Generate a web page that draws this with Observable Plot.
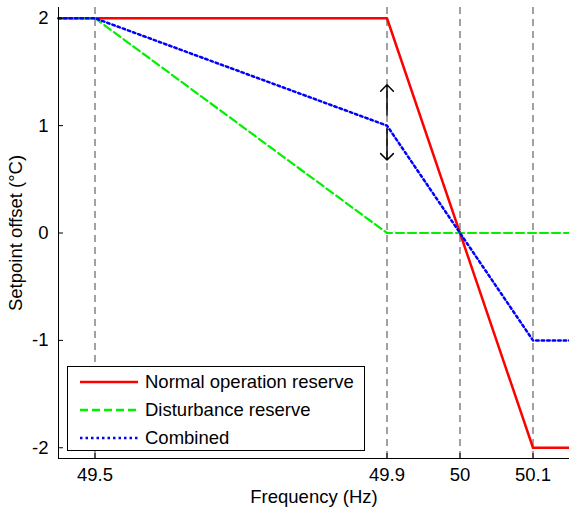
<!DOCTYPE html>
<html>
<head>
<meta charset="utf-8">
<script src="https://cdn.jsdelivr.net/npm/d3@7"></script>
<script src="https://cdn.jsdelivr.net/npm/@observablehq/plot@0.6"></script>
<style>
  body { margin: 0; background: #fff; font-family: "Liberation Sans", Arial, sans-serif; }
  #wrap { position: relative; width: 569px; height: 508px; }
  #legend { position: absolute; left: 67px; top: 366px; width: 298px; height: 85px; box-sizing: border-box;
            border: 1px solid #000; background: #fff; font-size: 18.5px; color: #000; }
  .row { position: absolute; left: 12px; display: flex; align-items: center; height: 22px; }
  .row svg { margin-right: 7px; }
</style>
</head>
<body>
<div id="wrap"><div id="chart"></div>
<div id="legend"></div></div>
<script>
const xDomain = [49.45, 50.15];
const yDomain = [-2.1, 2.1];
const xTicks = [49.5, 49.9, 50, 50.1];
const yTicks = [-2, -1, 0, 1, 2];

const normalX = [49.45, 49.9, 50.1, 50.15];
const normalY = [2, 2, -2, -2];
const disturbX = [49.45, 49.5, 49.9, 50.15];
const disturbY = [2, 2, 0, 0];
const combinedX = [49.45, 49.5, 49.9, 50.1, 50.15];
const combinedY = [2, 2, 1, -1, -1];

const arrowX = [49.9, 49.9];
const arrowY1 = [1.1, 0.97];
const arrowY2 = [1.38, 0.68];

const seriesNames = ["Normal operation reserve", "Disturbance reserve", "Combined"];
const seriesColors = ["#ff0000", "#00f000", "#0000ff"];
const seriesDash = [null, "8,4", "2.5,3"];

const toRows = (xs, ys) => xs.map((x, i) => ({x, y: ys[i]}));
const arrows = arrowX.map((x, i) => ({x, y1: arrowY1[i], y2: arrowY2[i]}));

const chart = Plot.plot({
  width: 569,
  height: 508,
  marginLeft: 58,
  marginRight: 0,
  marginTop: 7,
  marginBottom: 50,
  style: {fontFamily: "'Liberation Sans', Arial, sans-serif", fontSize: "18.5px", background: "#fff", color: "#000"},
  x: {domain: xDomain},
  y: {domain: yDomain},
  marks: [
    Plot.ruleX(xTicks, {stroke: "#444", strokeDasharray: "7,5", strokeWidth: 1}),
    Plot.line(toRows(normalX, normalY), {x: "x", y: "y", stroke: seriesColors[0], strokeWidth: 2.5}),
    Plot.line(toRows(disturbX, disturbY), {x: "x", y: "y", stroke: seriesColors[1], strokeWidth: 2.2, strokeDasharray: seriesDash[1]}),
    Plot.line(toRows(combinedX, combinedY), {x: "x", y: "y", stroke: seriesColors[2], strokeWidth: 2.5, strokeDasharray: seriesDash[2]}),
    Plot.arrow(arrows, {x: "x", y1: "y1", y2: "y2", stroke: "#000", strokeWidth: 1.5, headLength: 9, headAngle: 90}),
    Plot.ruleX([xDomain[0]], {stroke: "#000", strokeWidth: 1}),
    Plot.ruleY([yDomain[0]], {stroke: "#000", strokeWidth: 1}),
    Plot.axisX({ticks: xTicks, tickFormat: d => String(d), tickSize: -5, tickPadding: 14, label: "Frequency (Hz)", labelAnchor: "center", labelArrow: "none", labelOffset: 44, fontSize: 18.5}),
    Plot.axisY({ticks: yTicks, tickFormat: d => String(d), tickSize: -5, tickPadding: 15, label: "Setpoint offset (°C)", labelAnchor: "center", labelArrow: "none", labelOffset: 50, fontSize: 18.5})
  ]
});
document.getElementById("chart").appendChild(chart);

const legend = document.getElementById("legend");
seriesNames.forEach((name, i) => {
  const row = document.createElement("div");
  row.className = "row";
  row.style.top = (4 + i * 28) + "px";
  const dash = seriesDash[i] ? `stroke-dasharray="${seriesDash[i]}"` : "";
  row.innerHTML = `<svg width="58" height="6"><line x1="0" y1="3" x2="58" y2="3" stroke="${seriesColors[i]}" stroke-width="2.5" ${dash}/></svg><span>${name}</span>`;
  legend.appendChild(row);
});
</script>
</body>
</html>
